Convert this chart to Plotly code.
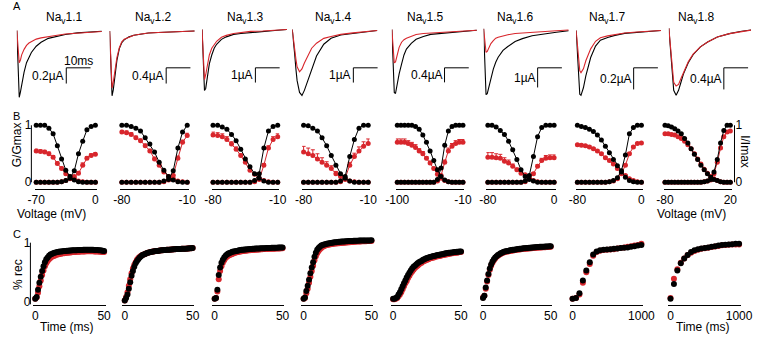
import plotly.graph_objects as go

W, H = 763, 340
RED = "#d8262c"
BLACK = "#000000"
FONT = "Liberation Sans, Arial, Helvetica, sans-serif"

CHANNELS = ["1.1", "1.2", "1.3", "1.4", "1.5", "1.6", "1.7", "1.8"]

# ---------------- Panel A: current traces (time in ms, current in uA) -------------
TRACE_T = [0, 0.5, 1.0, 1.5, 2, 3, 4, 5, 6, 8, 10, 13, 16, 20, 25, 30, 35]
TRACE_BLACK = [
    [0, -0.5, -0.85, -0.78, -0.69, -0.53, -0.41, -0.34, -0.28, -0.2, -0.15, -0.1, -0.075, -0.05, -0.03, -0.02, -0.01],
    [0, -0.875, -1.65, -1.5, -1.25, -0.75, -0.45, -0.3, -0.225, -0.15, -0.11, -0.075, -0.05, -0.04, -0.025, -0.0125, 0],
    [0, -2.33, -4.13, -4.0, -3.33, -2.33, -1.73, -1.27, -1.0, -0.67, -0.5, -0.33, -0.27, -0.2, -0.13, -0.07, 0],
    [0, -0.67, -1.67, -2.67, -3.47, -4.27, -4.47, -4.13, -3.67, -2.67, -1.8, -1.0, -0.6, -0.37, -0.27, -0.13, -0.07],
    [0, -0.95, -1.73, -1.76, -1.57, -1.22, -0.95, -0.7, -0.54, -0.38, -0.27, -0.19, -0.135, -0.11, -0.08, -0.04, -0.02],
    [0, -1.9, -3.35, -3.3, -3.05, -2.5, -2.05, -1.7, -1.45, -1.1, -0.9, -0.65, -0.5, -0.35, -0.25, -0.175, -0.1],
    [0, -0.18, -0.45, -0.59, -0.6, -0.53, -0.42, -0.33, -0.25, -0.145, -0.09, -0.064, -0.045, -0.027, -0.018, -0.009, 0],
    [0, -0.27, -0.64, -0.95, -1.15, -1.24, -1.15, -1.0, -0.85, -0.64, -0.49, -0.345, -0.255, -0.164, -0.1, -0.055, -0.027],
]
TRACE_RED = [
    [0, -0.25, -0.41, -0.375, -0.31, -0.24, -0.19, -0.16, -0.14, -0.11, -0.094, -0.075, -0.063, -0.044, -0.031, -0.019, -0.0125],
    [0, -0.75, -1.45, -1.3, -1.1, -0.675, -0.425, -0.275, -0.21, -0.15, -0.11, -0.075, -0.05, -0.04, -0.025, -0.0125, 0],
    [0, -2.0, -3.4, -3.07, -2.53, -1.73, -1.27, -1.0, -0.8, -0.53, -0.4, -0.27, -0.2, -0.13, -0.1, -0.05, 0],
    [0, -0.53, -1.33, -2.0, -2.53, -2.87, -2.67, -2.27, -1.93, -1.27, -0.93, -0.6, -0.47, -0.33, -0.23, -0.13, -0.07],
    [0, -0.54, -0.92, -0.89, -0.76, -0.49, -0.35, -0.28, -0.24, -0.18, -0.135, -0.11, -0.095, -0.08, -0.054, -0.032, -0.019],
    [0, -0.7, -1.2, -1.15, -1.0, -0.75, -0.6, -0.475, -0.425, -0.35, -0.3, -0.24, -0.21, -0.175, -0.14, -0.1, -0.06],
    [0, -0.127, -0.29, -0.373, -0.39, -0.355, -0.28, -0.22, -0.17, -0.1, -0.068, -0.05, -0.036, -0.023, -0.014, -0.005, 0],
    [0, -0.236, -0.545, -0.82, -1.0, -1.07, -1.04, -0.93, -0.82, -0.62, -0.48, -0.345, -0.255, -0.164, -0.1, -0.055, -0.027],
]
SCALE_UA = [0.2, 0.4, 1, 1, 0.4, 1, 0.2, 0.4]
SCALE_LABELS = ["0.2µA", "0.4µA", "1µA", "1µA", "0.4µA", "1µA", "0.2µA", "0.4µA"]
SCALE_MS = 10

# ---------------- Panel B: G/Gmax and I/Imax vs voltage ---------------------------
B_VOLT = [
    [-70, -65, -60, -55, -50, -45, -40, -35, -30, -25, -20, -15, -10, -5, 0],
    [-80, -75, -70, -65, -60, -55, -50, -45, -40, -35, -30, -25, -20, -15, -10],
    [-80, -75, -70, -65, -60, -55, -50, -45, -40, -35, -30, -25, -20, -15, -10],
    [-80, -75, -70, -65, -60, -55, -50, -45, -40, -35, -30, -25, -20, -15, -10],
    [-100, -95, -90, -85, -80, -75, -70, -65, -60, -55, -50, -45, -40, -35, -30, -25, -20, -15, -10],
    [-80, -75, -70, -65, -60, -55, -50, -45, -40, -35, -30, -25, -20, -15, -10, -5, 0],
    [-80, -75, -70, -65, -60, -55, -50, -45, -40, -35, -30, -25, -20, -15, -10, -5, 0],
    [-80, -75, -70, -65, -60, -55, -50, -45, -40, -35, -30, -25, -20, -15, -10, -5, 0, 5, 10, 15, 20],
]
B_VOLT_TICKS = [["-70", "0"], ["-80", "-10"], ["-80", "-10"], ["-80", "-10"],
                ["-100", "-10"], ["-80", "0"], ["-80", "0"], ["-80", "20"]]
B_INACT_BLACK = [
    [1.0, 1.0, 1.0, 0.95, 0.85, 0.64, 0.41, 0.21, 0.1, 0.04, 0.01, 0, 0, 0, 0],
    [1.0, 1.0, 0.98, 0.95, 0.9, 0.78, 0.67, 0.53, 0.35, 0.21, 0.1, 0.04, 0.01, 0, 0],
    [1.0, 1.0, 0.97, 0.93, 0.84, 0.73, 0.58, 0.41, 0.27, 0.15, 0.07, 0.02, 0, 0, 0],
    [1.0, 0.99, 0.95, 0.9, 0.78, 0.64, 0.47, 0.3, 0.15, 0.07, 0.02, 0, 0, 0, 0],
    [1, 1, 1, 1, 1, 0.98, 0.93, 0.83, 0.7, 0.55, 0.38, 0.22, 0.1, 0.04, 0.01, 0, 0, 0, 0],
    [1, 1, 0.97, 0.91, 0.84, 0.72, 0.57, 0.4, 0.22, 0.1, 0.05, 0.02, 0, 0, 0, 0, 0],
    [1, 0.98, 0.96, 0.93, 0.89, 0.83, 0.74, 0.63, 0.52, 0.4, 0.29, 0.18, 0.09, 0.03, 0.01, 0, 0],
    [1, 0.99, 0.97, 0.94, 0.9, 0.85, 0.77, 0.69, 0.59, 0.49, 0.4, 0.3, 0.22, 0.15, 0.09, 0.05, 0.03, 0.01, 0, 0, 0],
]
B_INACT_RED = [
    [0.55, 0.54, 0.53, 0.5, 0.44, 0.33, 0.24, 0.15, 0.1, 0.06, 0.02, 0.01, 0, 0, 0],
    [0.88, 0.87, 0.84, 0.78, 0.73, 0.64, 0.55, 0.41, 0.3, 0.18, 0.1, 0.06, 0.02, 0.01, 0],
    [0.83, 0.82, 0.8, 0.75, 0.67, 0.58, 0.47, 0.35, 0.21, 0.14, 0.07, 0.03, 0.01, 0, 0],
    [0.53, 0.5, 0.47, 0.41, 0.35, 0.3, 0.24, 0.15, 0.1, 0.05, 0.02, 0.01, 0, 0, 0],
    [0.7, 0.7, 0.7, 0.68, 0.65, 0.61, 0.55, 0.5, 0.42, 0.34, 0.24, 0.14, 0.07, 0.03, 0.01, 0, 0, 0, 0],
    [0.44, 0.44, 0.43, 0.42, 0.37, 0.34, 0.28, 0.22, 0.16, 0.13, 0.07, 0.03, 0.01, 0, 0, 0, 0],
    [0.66, 0.65, 0.64, 0.62, 0.59, 0.55, 0.5, 0.43, 0.38, 0.32, 0.24, 0.18, 0.12, 0.06, 0.03, 0.01, 0],
    [0.85, 0.85, 0.84, 0.83, 0.8, 0.77, 0.72, 0.66, 0.59, 0.5, 0.41, 0.32, 0.23, 0.16, 0.1, 0.06, 0.03, 0.01, 0, 0, 0],
]
B_ACT_BLACK = [
    [0, 0, 0, 0, 0, 0, 0.01, 0.03, 0.07, 0.2, 0.5, 0.72, 0.92, 0.98, 1.0],
    [0, 0, 0, 0, 0, 0, 0, 0, 0, 0.02, 0.05, 0.2, 0.6, 0.88, 1.0],
    [0, 0, 0, 0, 0, 0, 0, 0, 0, 0.03, 0.15, 0.6, 0.9, 0.98, 1.0],
    [0, 0, 0, 0, 0, 0, 0, 0, 0.02, 0.1, 0.45, 0.75, 0.95, 1.0, 1.0],
    [0, 0, 0, 0, 0, 0, 0, 0, 0, 0, 0, 0.05, 0.25, 0.65, 0.9, 0.98, 1, 1, 1],
    [0, 0, 0, 0, 0, 0, 0, 0, 0, 0.02, 0.12, 0.45, 0.8, 0.96, 1, 1, 1],
    [0, 0, 0, 0, 0, 0, 0, 0, 0.01, 0.03, 0.08, 0.2, 0.48, 0.85, 0.96, 1, 1],
    [0, 0, 0, 0, 0, 0, 0, 0, 0, 0, 0, 0, 0.01, 0.02, 0.05, 0.18, 0.4, 0.69, 0.91, 1, 1],
]
B_ACT_RED = [
    [0, 0, 0, 0, 0, 0, 0.01, 0.03, 0.06, 0.1, 0.16, 0.3, 0.42, 0.47, 0.49],
    [0, 0, 0, 0, 0, 0, 0, 0, 0, 0.01, 0.04, 0.12, 0.42, 0.7, 0.82],
    [0, 0, 0, 0, 0, 0, 0, 0, 0, 0.01, 0.05, 0.3, 0.6, 0.75, 0.8],
    [0, 0, 0, 0, 0, 0, 0, 0, 0.01, 0.07, 0.3, 0.45, 0.55, 0.63, 0.68],
    [0, 0, 0, 0, 0, 0, 0, 0, 0, 0, 0, 0.02, 0.12, 0.35, 0.55, 0.63, 0.68, 0.7, 0.7],
    [0, 0, 0, 0, 0, 0, 0, 0, 0, 0.01, 0.06, 0.15, 0.28, 0.38, 0.42, 0.43, 0.43],
    [0, 0, 0, 0, 0, 0, 0, 0, 0.01, 0.02, 0.06, 0.15, 0.3, 0.5, 0.62, 0.68, 0.69],
    [0, 0, 0, 0, 0, 0, 0, 0, 0, 0, 0, 0, 0.01, 0.02, 0.04, 0.15, 0.35, 0.6, 0.8, 0.88, 0.9],
]
B_ERR_INACT_RED = [
    [0.03, 0.03, 0.03, 0.03, 0.03, 0.03, 0.03, 0.02, 0.02, 0.02, 0.01, 0, 0, 0, 0],
    [0.03, 0.03, 0.03, 0.03, 0.03, 0.03, 0.03, 0.03, 0.02, 0.02, 0.02, 0.01, 0, 0, 0],
    [0.05, 0.05, 0.05, 0.05, 0.04, 0.04, 0.03, 0.03, 0.02, 0.02, 0.01, 0, 0, 0, 0],
    [0.1, 0.1, 0.1, 0.09, 0.08, 0.06, 0.05, 0.04, 0.03, 0.02, 0.01, 0, 0, 0, 0],
    [0.06, 0.06, 0.06, 0.05, 0.05, 0.05, 0.04, 0.04, 0.03, 0.03, 0.02, 0.02, 0.01, 0, 0, 0, 0, 0, 0],
    [0.08, 0.08, 0.07, 0.07, 0.06, 0.05, 0.04, 0.03, 0.02, 0.02, 0.01, 0, 0, 0, 0, 0, 0],
    [0.02, 0.02, 0.02, 0.02, 0.02, 0.02, 0.02, 0.02, 0.02, 0.02, 0.02, 0.02, 0.01, 0.01, 0, 0, 0],
    [0.02, 0.02, 0.02, 0.02, 0.02, 0.02, 0.02, 0.02, 0.02, 0.02, 0.02, 0.02, 0.01, 0.01, 0.01, 0, 0, 0, 0, 0, 0],
]
B_ERR_ACT_RED = [
    [0, 0, 0, 0, 0, 0, 0, 0, 0.02, 0.02, 0.03, 0.04, 0.03, 0.03, 0.03],
    [0, 0, 0, 0, 0, 0, 0, 0, 0, 0, 0, 0.02, 0.04, 0.04, 0.04],
    [0, 0, 0, 0, 0, 0, 0, 0, 0, 0, 0.02, 0.03, 0.04, 0.05, 0.05],
    [0, 0, 0, 0, 0, 0, 0, 0, 0, 0.02, 0.05, 0.06, 0.07, 0.08, 0.08],
    [0, 0, 0, 0, 0, 0, 0, 0, 0, 0, 0, 0, 0.02, 0.04, 0.05, 0.05, 0.05, 0.05, 0.05],
    [0, 0, 0, 0, 0, 0, 0, 0, 0, 0, 0, 0.02, 0.03, 0.04, 0.05, 0.05, 0.05],
    [0, 0, 0, 0, 0, 0, 0, 0, 0, 0, 0, 0.01, 0.02, 0.02, 0.02, 0.02, 0.02],
    [0, 0, 0, 0, 0, 0, 0, 0, 0, 0, 0, 0, 0, 0, 0, 0.01, 0.02, 0.02, 0.02, 0.02, 0.02],
]

# ---------------- Panel C: recovery from inactivation -----------------------------
C_T_SHORT = [0, 1, 2, 3, 4, 5, 6, 7, 8, 9, 10, 11, 12, 13, 14, 15, 16, 17, 18, 19,
             20, 21, 22, 23, 24, 25, 26, 27, 28, 29, 30, 31, 32, 33, 34, 35, 36, 37, 38, 39,
             40, 41, 42, 43, 44, 45, 46, 47, 48, 49, 50]
C_T_LONG = [0, 50, 100, 150, 200, 250, 300, 350, 400, 450, 500,
            550, 600, 650, 700, 750, 800, 850, 900, 950, 1000]
C_TICKS = [["0", "50"]] * 6 + [["0", "1000"]] * 2
C_BLACK = [
    [0.05, 0.08, 0.2, 0.32, 0.42, 0.52, 0.6, 0.67, 0.72, 0.75,
     0.78, 0.8, 0.81, 0.82, 0.83, 0.835, 0.84, 0.845, 0.85, 0.85,
     0.855, 0.857, 0.86, 0.862, 0.864, 0.866, 0.868, 0.87, 0.871, 0.872,
     0.873, 0.874, 0.875, 0.876, 0.877, 0.878, 0.878, 0.879, 0.879, 0.88,
     0.88, 0.879, 0.878, 0.877, 0.876, 0.874, 0.872, 0.87, 0.867, 0.864,
     0.86],
    [0.02, 0.06, 0.12, 0.22, 0.33, 0.44, 0.52, 0.59, 0.65, 0.69,
     0.72, 0.75, 0.77, 0.79, 0.8, 0.81, 0.82, 0.83, 0.835, 0.84,
     0.845, 0.85, 0.855, 0.86, 0.86, 0.865, 0.867, 0.87, 0.872, 0.874,
     0.876, 0.878, 0.88, 0.882, 0.884, 0.886, 0.888, 0.89, 0.891, 0.892,
     0.893, 0.894, 0.895, 0.896, 0.897, 0.898, 0.9, 0.902, 0.904, 0.906,
     0.908],
    [0.05, 0.06, 0.2, 0.45, 0.58, 0.66, 0.71, 0.75, 0.78, 0.8,
     0.815, 0.825, 0.835, 0.845, 0.85, 0.855, 0.86, 0.865, 0.87, 0.875,
     0.88, 0.882, 0.884, 0.886, 0.888, 0.89, 0.892, 0.894, 0.896, 0.898,
     0.9, 0.901, 0.902, 0.903, 0.904, 0.905, 0.906, 0.907, 0.908, 0.909,
     0.91, 0.911, 0.912, 0.913, 0.914, 0.915, 0.916, 0.917, 0.918, 0.919,
     0.92],
    [0.05, 0.07, 0.18, 0.27, 0.37, 0.48, 0.58, 0.67, 0.76, 0.83,
     0.88, 0.91, 0.93, 0.95, 0.96, 0.97, 0.975, 0.98, 0.985, 0.99,
     0.995, 1.0, 1.003, 1.006, 1.009, 1.012, 1.014, 1.016, 1.018, 1.02,
     1.022, 1.024, 1.026, 1.027, 1.028, 1.029, 1.03, 1.031, 1.032, 1.033,
     1.034, 1.035, 1.035, 1.036, 1.036, 1.037, 1.037, 1.038, 1.038, 1.039,
     1.04],
    [0.05, 0.05, 0.06, 0.08, 0.12, 0.16, 0.21, 0.26, 0.31, 0.36,
     0.41, 0.45, 0.49, 0.53, 0.56, 0.59, 0.61, 0.63, 0.65, 0.67,
     0.68, 0.69, 0.71, 0.72, 0.73, 0.74, 0.75, 0.755, 0.76, 0.77,
     0.775, 0.78, 0.785, 0.79, 0.795, 0.8, 0.805, 0.81, 0.815, 0.82,
     0.825, 0.83, 0.83, 0.835, 0.835, 0.84, 0.84, 0.845, 0.845, 0.85,
     0.85],
    [0.06, 0.1, 0.24, 0.36, 0.47, 0.56, 0.63, 0.68, 0.72, 0.75,
     0.77, 0.79, 0.805, 0.82, 0.83, 0.84, 0.85, 0.855, 0.86, 0.865,
     0.87, 0.874, 0.878, 0.882, 0.886, 0.89, 0.893, 0.896, 0.899, 0.902,
     0.905, 0.907, 0.909, 0.911, 0.913, 0.915, 0.917, 0.919, 0.921, 0.923,
     0.925, 0.927, 0.929, 0.93, 0.931, 0.932, 0.934, 0.936, 0.937, 0.938,
     0.94],
    [0.05, 0.06, 0.14, 0.36, 0.53, 0.67, 0.8, 0.85, 0.87, 0.88,
     0.885, 0.89, 0.895, 0.9, 0.91, 0.915, 0.92, 0.93, 0.94, 0.95, 0.96],
    [0.05, 0.3, 0.53, 0.65, 0.73, 0.79, 0.84, 0.87, 0.89, 0.9,
     0.91, 0.92, 0.93, 0.94, 0.95, 0.96, 0.965, 0.97, 0.975, 0.98, 0.98],
]
C_RED = [
    [0.05, 0.07, 0.15, 0.26, 0.36, 0.45, 0.53, 0.6, 0.65, 0.69,
     0.72, 0.74, 0.76, 0.77, 0.78, 0.79, 0.8, 0.805, 0.81, 0.815,
     0.82, 0.82, 0.825, 0.83, 0.83, 0.835, 0.835, 0.84, 0.84, 0.84,
     0.845, 0.845, 0.845, 0.85, 0.85, 0.85, 0.85, 0.855, 0.855, 0.855,
     0.855, 0.855, 0.855, 0.85, 0.85, 0.85, 0.85, 0.845, 0.845, 0.84,
     0.84],
    [0.02, 0.08, 0.16, 0.27, 0.38, 0.48, 0.56, 0.62, 0.67, 0.71,
     0.74, 0.76, 0.78, 0.79, 0.8, 0.81, 0.82, 0.83, 0.835, 0.84,
     0.845, 0.85, 0.855, 0.86, 0.86, 0.865, 0.867, 0.87, 0.872, 0.874,
     0.876, 0.878, 0.88, 0.882, 0.884, 0.886, 0.888, 0.89, 0.891, 0.892,
     0.893, 0.894, 0.895, 0.896, 0.897, 0.898, 0.9, 0.902, 0.904, 0.906,
     0.908],
    [0.05, 0.06, 0.17, 0.38, 0.52, 0.6, 0.66, 0.7, 0.74, 0.76,
     0.78, 0.79, 0.8, 0.81, 0.82, 0.83, 0.835, 0.84, 0.845, 0.85,
     0.855, 0.858, 0.861, 0.864, 0.867, 0.87, 0.872, 0.874, 0.876, 0.878,
     0.88, 0.882, 0.884, 0.886, 0.888, 0.89, 0.891, 0.892, 0.893, 0.894,
     0.895, 0.896, 0.897, 0.898, 0.899, 0.9, 0.901, 0.902, 0.903, 0.904,
     0.905],
    [0.05, 0.06, 0.14, 0.22, 0.32, 0.42, 0.52, 0.61, 0.7, 0.77,
     0.82, 0.86, 0.89, 0.91, 0.93, 0.94, 0.95, 0.96, 0.965, 0.97,
     0.975, 0.978, 0.981, 0.984, 0.987, 0.99, 0.992, 0.994, 0.996, 0.998,
     1.0, 1.002, 1.004, 1.006, 1.008, 1.01, 1.012, 1.014, 1.016, 1.018,
     1.02, 1.021, 1.022, 1.023, 1.024, 1.025, 1.026, 1.027, 1.028, 1.029,
     1.03],
    [0.04, 0.04, 0.05, 0.06, 0.09, 0.12, 0.16, 0.21, 0.26, 0.31,
     0.35, 0.4, 0.44, 0.48, 0.51, 0.54, 0.57, 0.59, 0.61, 0.63,
     0.65, 0.66, 0.68, 0.69, 0.7, 0.71, 0.72, 0.73, 0.74, 0.745,
     0.75, 0.76, 0.765, 0.77, 0.775, 0.78, 0.785, 0.79, 0.795, 0.8,
     0.805, 0.81, 0.815, 0.82, 0.82, 0.825, 0.83, 0.83, 0.835, 0.84,
     0.84],
    [0.07, 0.1, 0.22, 0.34, 0.45, 0.54, 0.61, 0.66, 0.7, 0.73,
     0.76, 0.78, 0.795, 0.81, 0.82, 0.83, 0.84, 0.845, 0.85, 0.855,
     0.86, 0.864, 0.868, 0.872, 0.876, 0.88, 0.883, 0.886, 0.889, 0.892,
     0.895, 0.897, 0.899, 0.901, 0.903, 0.905, 0.907, 0.909, 0.911, 0.913,
     0.915, 0.917, 0.919, 0.92, 0.921, 0.922, 0.924, 0.926, 0.927, 0.928,
     0.93],
    [0.05, 0.06, 0.12, 0.32, 0.5, 0.64, 0.78, 0.84, 0.865, 0.875,
     0.88, 0.885, 0.89, 0.9, 0.91, 0.92, 0.93, 0.94, 0.95, 0.96, 0.98],
    [0.06, 0.39, 0.55, 0.66, 0.73, 0.79, 0.83, 0.86, 0.88, 0.895,
     0.905, 0.915, 0.925, 0.935, 0.945, 0.955, 0.96, 0.965, 0.97, 0.97, 0.97],
]

# ---------------- layout geometry (pixels) ---------------------------------------
A_X0 = [6, 101.7, 197, 290, 392.7, 487.3, 582.7, 678.3]
A_BASE = [29, 29.5, 28, 28, 28, 27.3, 29, 26.7]
A_PX_PER_UA = [80, 40, 15, 15, 37, 20, 110, 55]
A_PX_PER_MS = 2.5
A_BAR_X = [57, 160, 252, 353, 447, 543, 642, 735]
A_BAR_TOP = 67
A_TITLE_X = [55, 147, 242, 333, 427, 520, 615, 707]
A_TOP, A_BOT = 20, 108

B_V0PX = [26, 114.3, 208.3, 301.7, 398.3, 491.7, 584, 674.3]
B_V1PX = [87, 181.7, 275, 368.3, 466, 560, 650, 741.7]
B_Y0PX, B_Y1PX = 183.5, 125.5
B_TOP, B_BOT = 121, 188
B_AXIS_Y = 190

C_T0PX = [25, 117.3, 210, 301.7, 394, 486.7, 579, 680]
C_T1PX = [96, 187.3, 280, 371.7, 464, 556.5, 650, 750.7]
C_Y0PX, C_Y1PX = 305, 245
C_TOP, C_BOT = 238, 308


def fx(p):
    return p / W


def fy(p):
    return 1 - p / H


fig = go.Figure()
layout = {}
shapes = []
annotations = []


def ann(text, x, y, size=12, angle=0, xanchor="center", yanchor="middle"):
    annotations.append(dict(text=text, x=fx(x), y=fy(y), xref="paper", yref="paper",
                            showarrow=False, textangle=angle, xanchor=xanchor,
                            yanchor=yanchor, borderpad=0,
                            font=dict(size=size, color="black", family=FONT)))


hidden = dict(visible=False, showgrid=False, zeroline=False)
tickfont = dict(size=12, color="black", family=FONT)

# ---- Panel A
for i in range(8):
    n = i + 1
    x0 = A_X0[i]
    xr = min(x0 + 92, W)
    k = A_PX_PER_UA[i]
    b = A_BASE[i]
    layout[f"xaxis{n}"] = dict(domain=[fx(x0), fx(xr)], range=[0, (xr - x0) / A_PX_PER_MS],
                               anchor=f"y{n}", **hidden)
    layout[f"yaxis{n}"] = dict(domain=[fy(A_BOT), fy(A_TOP)],
                               range=[-(A_BOT - b) / k, (b - A_TOP) / k], anchor=f"x{n}", **hidden)
    fig.add_trace(go.Scatter(x=TRACE_T, y=TRACE_BLACK[i], mode="lines",
                             line=dict(color=BLACK, width=1.1), xaxis=f"x{n}", yaxis=f"y{n}"))
    fig.add_trace(go.Scatter(x=TRACE_T, y=TRACE_RED[i], mode="lines",
                             line=dict(color=RED, width=1.1), xaxis=f"x{n}", yaxis=f"y{n}"))
    # scale bar
    bx = (A_BAR_X[i] - x0) / A_PX_PER_MS
    by = -(A_BAR_TOP - b) / k
    shapes.append(dict(type="line", xref=f"x{n}", yref=f"y{n}", x0=bx, x1=bx,
                       y0=by, y1=by - SCALE_UA[i], line=dict(color="black", width=1)))
    shapes.append(dict(type="line", xref=f"x{n}", yref=f"y{n}", x0=bx, x1=bx + SCALE_MS,
                       y0=by, y1=by, line=dict(color="black", width=1)))
    ann(SCALE_LABELS[i], A_BAR_X[i] - 1, A_BAR_TOP + SCALE_UA[i] * k / 2, xanchor="right")
    ann(f"Na<sub>v</sub>{CHANNELS[i]}", A_TITLE_X[i], 16)
ann("10ms", (A_BAR_X[0] + A_BAR_X[0] + SCALE_MS * A_PX_PER_MS) / 2, 60)

# ---- Panel B
s_y = B_Y0PX - B_Y1PX
for i in range(8):
    n = 9 + i
    v = B_VOLT[i]
    vmin, vmax = v[0], v[-1]
    s = (B_V1PX[i] - B_V0PX[i]) / (vmax - vmin)
    pad = 1.5
    layout[f"xaxis{n}"] = dict(domain=[fx(B_V0PX[i] - pad), fx(B_V1PX[i] + pad)],
                               range=[vmin - pad / s, vmax + pad / s], anchor="free",
                               position=fy(B_AXIS_Y), showline=True, linecolor="black",
                               linewidth=1, ticks="", tickvals=[vmin, vmax],
                               ticktext=B_VOLT_TICKS[i], showgrid=False, zeroline=False,
                               tickfont=tickfont)
    yr = [-(B_BOT - B_Y0PX) / s_y, 1 + (B_Y1PX - B_TOP) / s_y]
    ya = dict(domain=[fy(B_BOT), fy(B_TOP)], range=yr, showgrid=False, zeroline=False)
    if i == 0 or i == 7:
        axpos = 21 if i == 0 else 746
        ya.update(anchor="free", position=fx(axpos), showline=False, ticks="",
                  tickvals=[0, 1], ticktext=["0", "1"], side="left" if i == 0 else "right",
                  tickfont=tickfont)
        shapes.append(dict(type="line", xref="paper", yref=f"y{n}", x0=fx(axpos), x1=fx(axpos),
                           y0=0, y1=1, line=dict(color="black", width=1)))
    else:
        ya.update(anchor=f"x{n}", visible=False)
    layout[f"yaxis{n}"] = ya
    zeros = [0] * len(v)
    series = [
        (B_INACT_RED[i], RED, B_ERR_INACT_RED[i]),
        (B_ACT_RED[i], RED, B_ERR_ACT_RED[i]),
        (B_INACT_BLACK[i], BLACK, None),
        (B_ACT_BLACK[i], BLACK, None),
    ]
    for yv, col, err in series:
        tr = dict(x=v, y=yv, mode="lines+markers", cliponaxis=False,
                  marker=dict(size=5, color=col), line=dict(color=col, width=1),
                  xaxis=f"x{n}", yaxis=f"y{n}")
        if err is not None:
            tr["error_y"] = dict(type="data", array=err, arrayminus=zeros, symmetric=False,
                                 color=col, thickness=1, width=2)
        fig.add_trace(go.Scatter(**tr))

# ---- Panel C
s_cy = C_Y0PX - C_Y1PX
c_yr = [-(C_BOT - C_Y0PX) / s_cy, 1 + (C_Y1PX - C_TOP) / s_cy]
for i in range(8):
    n = 17 + i
    t = C_T_SHORT if i < 6 else C_T_LONG
    tmin, tmax = t[0], t[-1]
    s = (C_T1PX[i] - C_T0PX[i]) / (tmax - tmin)
    layout[f"xaxis{n}"] = dict(domain=[fx(C_T0PX[i] - 2.5), fx(C_T1PX[i] + 1.5)],
                               range=[tmin - 2.5 / s, tmax + 1.5 / s], anchor=f"y{n}",
                               showline=True, linecolor="black", linewidth=1, ticks="",
                               tickvals=[tmin, tmax], ticktext=C_TICKS[i], showgrid=False,
                               zeroline=False, tickfont=tickfont)
    ya = dict(domain=[fy(C_BOT), fy(C_TOP)], range=c_yr, showgrid=False, zeroline=False)
    if i == 0:
        ya.update(anchor="free", position=fx(20), showline=False, ticks="",
                  tickvals=[0, 1], ticktext=["0", "1"], tickfont=tickfont)
        shapes.append(dict(type="line", xref="paper", yref=f"y{n}", x0=fx(20), x1=fx(20),
                           y0=c_yr[0], y1=1, line=dict(color="black", width=1)))
    else:
        ya.update(anchor=f"x{n}", visible=False)
    layout[f"yaxis{n}"] = ya
    fig.add_trace(go.Scatter(x=t, y=C_RED[i], mode="markers", cliponaxis=False,
                             marker=dict(size=6, color=RED), xaxis=f"x{n}", yaxis=f"y{n}"))
    fig.add_trace(go.Scatter(x=t, y=C_BLACK[i], mode="markers", cliponaxis=False,
                             marker=dict(size=6, color=BLACK), xaxis=f"x{n}", yaxis=f"y{n}"))

# ---- labels
ann("A", 1, 4, size=11, xanchor="left")
ann("B", 1, 116, size=11, xanchor="left")
ann("C", 1, 236, size=11, xanchor="left")
ann("G/Gmax", 7, 145, angle=-90)
ann("I/Imax", 757, 152, angle=90)
ann("Voltage (mV)", 42, 215.5)
ann("Voltage (mV)", 702, 215.5)
ann("% rec", 7, 277, angle=-90)
ann("Time (ms)", 58, 331)
ann("Time (ms)", 714, 331)

fig.update_layout(
    width=W, height=H, margin=dict(l=0, r=0, t=0, b=0),
    paper_bgcolor="white", plot_bgcolor="rgba(0,0,0,0)",
    showlegend=False, font=dict(family=FONT, size=12, color="black"),
    shapes=shapes, annotations=annotations, **layout,
)

fig.write_html("out.html")
